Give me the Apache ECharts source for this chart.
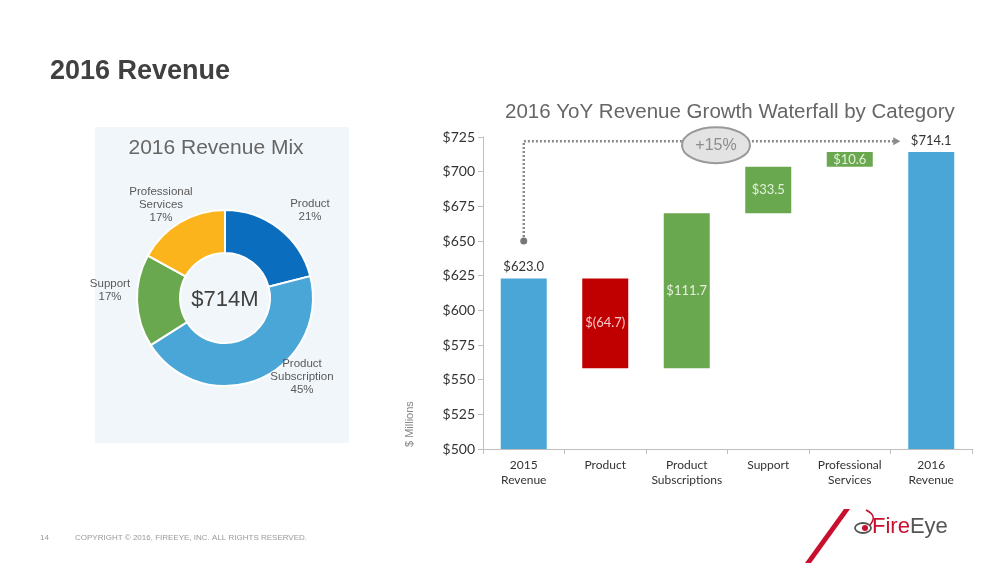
<!DOCTYPE html>
<html><head><meta charset="utf-8">
<script src="https://cdn.jsdelivr.net/npm/echarts@6/dist/echarts.min.js"></script>
<style>html,body{margin:0;padding:0;background:#fff}#c{width:1000px;height:563px}</style>
</head><body><div id="c"></div>
<script>
// ---- data ----
var mixNames = ['Product', 'Product\nSubscription', 'Support', 'Professional\nServices'];
var mixPct = [21, 45, 17, 17];
var mixTotalLabel = '$714M';

var wfCategories = ['2015\nRevenue', 'Product', 'Product\nSubscriptions', 'Support', 'Professional\nServices', '2016\nRevenue'];
var wfChanges = [623.0, -64.7, 111.7, 33.5, 10.6, 714.1];
var wfIsTotal = [true, false, false, false, false, true];
var yMin = 500, yMax = 725, yStep = 25;
var growthLabel = '+15%';

// ---- build waterfall ----
var mixColors = ['#0B6DBD', '#4AA6D6', '#6AA84F', '#FCB41C'];
var blue = '#4AA6D6', red = '#C00000', green = '#6AA84F';
var baseVals = [], visVals = [];
var running = 0;
for (var i = 0; i < wfChanges.length; i++) {
  var v = wfChanges[i];
  if (wfIsTotal[i]) {
    baseVals.push(0);
    visVals.push({ value: v, itemStyle: { color: blue },
      label: { show: true, position: 'top', color: '#333', formatter: '$' + v.toFixed(1) } });
    running = v;
  } else {
    var lo = Math.round(Math.min(running, running + v) * 10) / 10;
    baseVals.push(lo);
    var txt = v < 0 ? '$(' + Math.abs(v).toFixed(1) + ')' : '$' + v.toFixed(1);
    visVals.push({ value: Math.abs(v), itemStyle: { color: v < 0 ? red : green },
      label: { show: true, position: 'inside', color: v < 0 ? '#F6C9C9' : '#E4F1DC', formatter: txt } });
    running = Math.round((running + v) * 10) / 10;
  }
}

var chart = echarts.init(document.getElementById('c'), null, { renderer: 'canvas' });
var fontA = 'Liberation Sans, Arial, sans-serif';
var fontC = 'Lato, Open Sans, sans-serif';
// label anchor points for the donut (pixel positions of label centres)
var pieLabelAt = [[310, 210], [302, 377], [110, 290], [161, 205]];

chart.setOption({
  animation: false,
  backgroundColor: '#fff',
  title: [
    { text: '2016 Revenue', left: 45, top: 53, textStyle: { fontFamily: fontA, fontSize: 27, fontWeight: 'bold', color: '#404040' } },
    { text: '2016 Revenue Mix', left: 211, textAlign: 'center', top: 133, textStyle: { fontFamily: fontA, fontSize: 21, fontWeight: 'normal', color: '#666' } },
    { text: '2016 YoY Revenue Growth Waterfall by Category', left: 500, top: 97, textStyle: { fontFamily: fontA, fontSize: 20.5, fontWeight: 'normal', color: '#666' } }
  ],
  grid: { left: 483, right: 28, top: 137, bottom: 114, containLabel: false },
  xAxis: {
    type: 'category', data: wfCategories,
    axisLine: { lineStyle: { color: '#BFBFBF' } },
    axisTick: { show: true, alignWithLabel: false, lineStyle: { color: '#BFBFBF' } },
    axisLabel: { color: '#333', fontFamily: fontC, fontSize: 12, lineHeight: 15, margin: 9, interval: 0 }
  },
  yAxis: {
    type: 'value', min: yMin, max: yMax, interval: yStep,
    name: '$ Millions', nameLocation: 'start', nameRotate: 90, nameGap: 0,
    nameTextStyle: { color: '#888', fontFamily: fontA, fontSize: 11, align: 'left', verticalAlign: 'bottom', padding: [0, 0, 68, 2] },
    splitLine: { show: false },
    axisLine: { show: true, lineStyle: { color: '#BFBFBF' } },
    axisTick: { show: true, lineStyle: { color: '#BFBFBF' } },
    axisLabel: { color: '#333', fontFamily: fontC, fontSize: 14, margin: 8, formatter: function (v) { return '$' + v; } }
  },
  series: [
    { type: 'bar', stack: 'wf', data: baseVals, barWidth: 46, itemStyle: { color: 'rgba(0,0,0,0)' }, silent: true },
    { type: 'bar', stack: 'wf', data: visVals, barWidth: 46,
      label: { fontFamily: fontC, fontSize: 13 } },
    { type: 'pie', center: [225, 298], radius: [45, 88], startAngle: 90, clockwise: true, z: 5,
      itemStyle: { borderColor: '#fff', borderWidth: 2 },
      label: { show: true, position: 'outside', fontFamily: fontA, fontSize: 11.5, lineHeight: 13, color: '#595959',
        formatter: function (p) { return p.name + '\n' + p.value + '%'; } },
      labelLine: { show: false },
      labelLayout: function (p) {
        var q = pieLabelAt[p.dataIndex];
        return { x: q[0], y: q[1], align: 'center', verticalAlign: 'middle' };
      },
      data: mixNames.map(function (n, k) { return { name: n, value: mixPct[k], itemStyle: { color: mixColors[k] } }; })
    }
  ],
  graphic: [
    { id: 'panel', type: 'rect', z: -10, shape: { x: 95, y: 127, width: 254, height: 316 }, style: { fill: '#F1F6FA' } },
    { id: 'ctr', type: 'text', z: 10, x: 225, y: 300, style: { text: mixTotalLabel, fontFamily: fontA, fontSize: 22, fill: '#404040', textAlign: 'center', textVerticalAlign: 'middle' } },
    { id: 'pg', type: 'text', x: 40, y: 538, style: { text: '14', fontFamily: fontA, fontSize: 8, fill: '#999', textVerticalAlign: 'middle' } },
    { id: 'cp', type: 'text', x: 75, y: 538, style: { text: 'COPYRIGHT \u00A9 2016, FIREEYE, INC. ALL RIGHTS RESERVED.', fontFamily: fontA, fontSize: 8, fill: '#999', textVerticalAlign: 'middle' } },
    { id: 'sl', type: 'polygon', shape: { points: [[844, 509], [850, 509], [811, 563], [805, 563]] }, style: { fill: '#C8102E' } },
    { id: 'e1', type: 'ellipse', shape: { cx: 863, cy: 528, rx: 8, ry: 5 }, style: { fill: 'none', stroke: '#555', lineWidth: 1.8 } },
    { id: 'e2', type: 'circle', shape: { cx: 865, cy: 528, r: 3 }, style: { fill: '#C8102E' } },
    { id: 'e3', type: 'bezierCurve', shape: { x1: 866, y1: 510, x2: 870, y2: 525, cpx1: 876, cpy1: 515, cpx2: 874, cpy2: 520 }, style: { stroke: '#C8102E', lineWidth: 1.5, fill: 'none' } },
    { id: 'logo', type: 'text', x: 872, y: 527, style: { text: '{r|Fire}{g|Eye}', fontFamily: fontA, fontSize: 22, textVerticalAlign: 'middle',
        rich: { r: { fill: '#C8102E', fontSize: 22, fontFamily: fontA }, g: { fill: '#555', fontSize: 22, fontFamily: fontA } } } }
  ]
});

// annotation: dotted connector with growth bubble
var pDot = chart.convertToPixel({ gridIndex: 0 }, [0, 650]);
var pTop = chart.convertToPixel({ gridIndex: 0 }, [0, 722]);
var p2016 = chart.convertToPixel({ gridIndex: 0 }, [5, 722]);
var endX = p2016[0] - 31;
var yLine = pTop[1];
var dash = { stroke: '#8C8C8C', lineWidth: 2.5, lineDash: [2, 2], fill: null };
var extra = [
  { id: 'a1', type: 'polyline', shape: { points: [[pDot[0], pDot[1]], [pDot[0], yLine], [endX - 6, yLine]] }, style: dash },
  { id: 'a2', type: 'polygon', shape: { points: [[endX - 7, yLine - 4], [endX, yLine], [endX - 7, yLine + 4]] }, style: { fill: '#8C8C8C' } },
  { id: 'a3', type: 'circle', shape: { cx: pDot[0], cy: pDot[1], r: 3.5 }, style: { fill: '#777' } },
  { id: 'a4', type: 'ellipse', shape: { cx: 716, cy: yLine + 4, rx: 34, ry: 18 }, style: { fill: '#E3E3E3', stroke: '#999', lineWidth: 2 } },
  { id: 'a5', type: 'text', x: 716, y: yLine + 4, style: { text: growthLabel, fontFamily: fontA, fontSize: 16, fill: '#8C8C8C', textAlign: 'center', textVerticalAlign: 'middle' } }
];
chart.setOption({ graphic: extra.map(function (e) { e.z = 20; return e; }) });
</script>
</body></html>
